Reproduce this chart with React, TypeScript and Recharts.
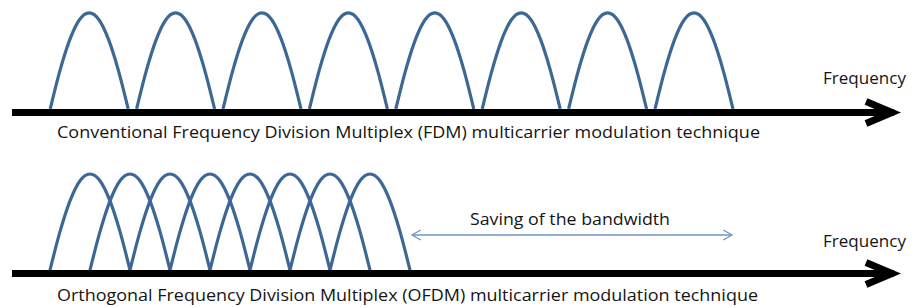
import { Line, LineChart, XAxis, YAxis } from "recharts";

// Sub-carrier centres and half-widths, in units of the OFDM carrier spacing
const fdmCentres = [0.98, 3.14, 5.3, 7.46, 9.62, 11.78, 13.94, 16.1];
const fdmHalfWidth = 0.975;
const ofdmCentres = [1, 2, 3, 4, 5, 6, 7, 8];
const ofdmHalfWidth = 1;

const lobeOffsets = [-1, -0.75, -0.5, -0.25, 0, 0.25, 0.5, 0.75, 1];
const lobeHeights = [0, 0.4, 0.72, 0.93, 1, 0.93, 0.72, 0.4, 0];

// Frequency axis (drawn as a thick arrow) and the "saving" span
const frequencyDomain: [number, number] = [-1.25, 21.75];
const axisFrom = -0.95;
const axisTo = 21.1;
const axisLevel = -0.036;
const arrowBack = 20.4;
const arrowTip = 21.05;
const savingFrom = 9.05;
const savingTo = 17.05;
const savingLevel = 0.365;

const captions = {
  fdm: "Conventional Frequency Division Multiplex (FDM) multicarrier modulation technique",
  ofdm: "Orthogonal Frequency Division Multiplex (OFDM) multicarrier modulation technique",
  axis: "Frequency",
  saving: "Saving of the bandwidth",
};

const CARRIER = "#3D6895";
const SAVING = "#6E95C8";
const FONT = "'Open Sans', 'DejaVu Sans', sans-serif";

type Pt = { f: number; a: number };

const lobe = (centre: number, half: number): Pt[] =>
  lobeOffsets.map((o, i) => ({ f: centre + o * half, a: lobeHeights[i] }));

function stroke(key: string, data: Pt[], color: string, width: number, curve: "monotone" | "linear" = "linear") {
  return (
    <Line
      key={key}
      data={data}
      dataKey="a"
      type={curve}
      stroke={color}
      strokeWidth={width}
      strokeLinejoin="miter"
      dot={false}
      activeDot={false}
      legendType="none"
      isAnimationActive={false}
    />
  );
}

function Panel({
  centres,
  half,
  yDomain,
  height,
  saving,
}: {
  centres: number[];
  half: number;
  yDomain: [number, number];
  height: number;
  saving?: boolean;
}) {
  const unitsPerPx = (yDomain[1] - yDomain[0]) / height;
  const axisLine: Pt[] = [
    { f: axisFrom, a: axisLevel },
    { f: axisTo, a: axisLevel },
  ];
  const head: Pt[] = [
    { f: arrowBack, a: axisLevel + 11 * unitsPerPx },
    { f: arrowTip, a: axisLevel },
    { f: arrowBack, a: axisLevel - 11 * unitsPerPx },
  ];
  const sv = 5 * unitsPerPx;
  const savingLine: Pt[] = [
    { f: savingFrom, a: savingLevel },
    { f: savingTo, a: savingLevel },
  ];
  const savingLeft: Pt[] = [
    { f: savingFrom + 0.22, a: savingLevel + sv },
    { f: savingFrom, a: savingLevel },
    { f: savingFrom + 0.22, a: savingLevel - sv },
  ];
  const savingRight: Pt[] = [
    { f: savingTo - 0.22, a: savingLevel + sv },
    { f: savingTo, a: savingLevel },
    { f: savingTo - 0.22, a: savingLevel - sv },
  ];

  return (
    <LineChart width={920} height={height} margin={{ top: 0, right: 0, bottom: 0, left: 0 }}>
      <XAxis dataKey="f" type="number" domain={frequencyDomain} hide allowDataOverflow />
      <YAxis type="number" domain={yDomain} hide allowDataOverflow />
      {centres.map((c, i) => stroke(`c${i}`, lobe(c, half), CARRIER, 3.2, "monotone"))}
      {stroke("axis", axisLine, "#000", 7)}
      {stroke("head", head, "#000", 7)}
      {saving && stroke("sv", savingLine, SAVING, 1.3)}
      {saving && stroke("svl", savingLeft, SAVING, 1.3)}
      {saving && stroke("svr", savingRight, SAVING, 1.3)}
    </LineChart>
  );
}

export default function App() {
  return (
    <div
      style={{
        position: "absolute",
        left: 0,
        top: 0,
        width: 920,
        height: 307,
        background: "#fff",
        overflow: "hidden",
      }}
    >
      <div style={{ position: "absolute", left: 0, top: 0 }}>
        <Panel centres={fdmCentres} half={fdmHalfWidth} yDomain={[-0.427, 1.135]} height={150} />
      </div>
      <div style={{ position: "absolute", left: 0, top: 155 }}>
        <Panel
          centres={ofdmCentres}
          half={ofdmHalfWidth}
          yDomain={[-0.385, 1.198]}
          height={152}
          saving
        />
      </div>
      <svg
        width={920}
        height={307}
        style={{ position: "absolute", left: 0, top: 0, pointerEvents: "none" }}
        fontFamily={FONT}
        fill="#151515"
      >
        <text x={57} y={138} fontSize={16.5} textLength={703} lengthAdjust="spacingAndGlyphs">
          {captions.fdm}
        </text>
        <text x={823} y={84} fontSize={15.5} textLength={83} lengthAdjust="spacingAndGlyphs">
          {captions.axis}
        </text>
        <text x={470} y={225} fontSize={15.5} textLength={200} lengthAdjust="spacingAndGlyphs">
          {captions.saving}
        </text>
        <text x={823} y={247} fontSize={15.5} textLength={83} lengthAdjust="spacingAndGlyphs">
          {captions.axis}
        </text>
        <text x={57} y={301} fontSize={16.5} textLength={701} lengthAdjust="spacingAndGlyphs">
          {captions.ofdm}
        </text>
      </svg>
    </div>
  );
}
